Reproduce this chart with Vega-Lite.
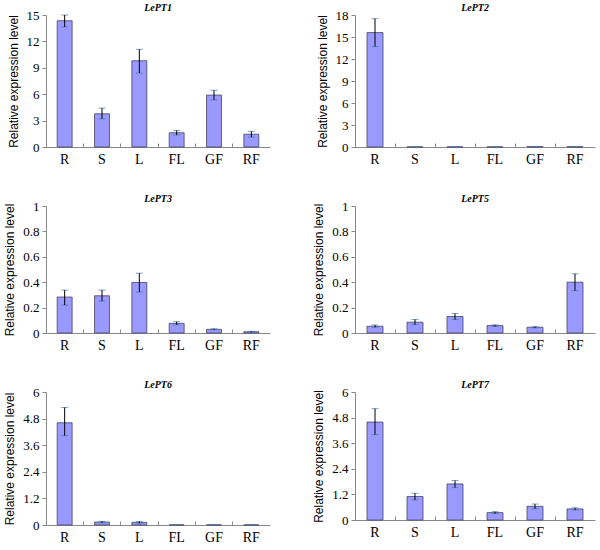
{
  "$schema": "https://vega.github.io/schema/vega-lite/v6.json",
  "padding": {"left": 3, "top": 3, "right": 2, "bottom": 0},
  "background": "white",
  "datasets": {
    "expr": [
      {"gene": "LePT1", "tissue": "R", "value": 14.35, "lo": 13.65, "hi": 15.0},
      {"gene": "LePT1", "tissue": "S", "value": 3.77, "lo": 3.2, "hi": 4.42},
      {"gene": "LePT1", "tissue": "L", "value": 9.8, "lo": 8.4, "hi": 11.1},
      {"gene": "LePT1", "tissue": "FL", "value": 1.62, "lo": 1.36, "hi": 1.88},
      {"gene": "LePT1", "tissue": "GF", "value": 5.9, "lo": 5.35, "hi": 6.45},
      {"gene": "LePT1", "tissue": "RF", "value": 1.45, "lo": 1.12, "hi": 1.78},
      {"gene": "LePT2", "tissue": "R", "value": 15.6, "lo": 13.7, "hi": 17.5},
      {"gene": "LePT2", "tissue": "S", "value": 0.01, "lo": 0.01, "hi": 0.01},
      {"gene": "LePT2", "tissue": "L", "value": 0.01, "lo": 0.01, "hi": 0.01},
      {"gene": "LePT2", "tissue": "FL", "value": 0.01, "lo": 0.01, "hi": 0.01},
      {"gene": "LePT2", "tissue": "GF", "value": 0.05, "lo": 0.04, "hi": 0.06},
      {"gene": "LePT2", "tissue": "RF", "value": 0.04, "lo": 0.03, "hi": 0.05},
      {"gene": "LePT3", "tissue": "R", "value": 0.283, "lo": 0.22, "hi": 0.338},
      {"gene": "LePT3", "tissue": "S", "value": 0.293, "lo": 0.251, "hi": 0.338},
      {"gene": "LePT3", "tissue": "L", "value": 0.398, "lo": 0.322, "hi": 0.471},
      {"gene": "LePT3", "tissue": "FL", "value": 0.076, "lo": 0.065, "hi": 0.089},
      {"gene": "LePT3", "tissue": "GF", "value": 0.029, "lo": 0.025, "hi": 0.033},
      {"gene": "LePT3", "tissue": "RF", "value": 0.01, "lo": 0.007, "hi": 0.013},
      {"gene": "LePT5", "tissue": "R", "value": 0.053, "lo": 0.045, "hi": 0.063},
      {"gene": "LePT5", "tissue": "S", "value": 0.085, "lo": 0.066, "hi": 0.106},
      {"gene": "LePT5", "tissue": "L", "value": 0.13, "lo": 0.106, "hi": 0.153},
      {"gene": "LePT5", "tissue": "FL", "value": 0.058, "lo": 0.052, "hi": 0.064},
      {"gene": "LePT5", "tissue": "GF", "value": 0.045, "lo": 0.04, "hi": 0.05},
      {"gene": "LePT5", "tissue": "RF", "value": 0.4, "lo": 0.333, "hi": 0.466},
      {"gene": "LePT6", "tissue": "R", "value": 4.61, "lo": 4.03, "hi": 5.3},
      {"gene": "LePT6", "tissue": "S", "value": 0.134, "lo": 0.1, "hi": 0.165},
      {"gene": "LePT6", "tissue": "L", "value": 0.12, "lo": 0.08, "hi": 0.16},
      {"gene": "LePT6", "tissue": "FL", "value": 0.005, "lo": 0.004, "hi": 0.006},
      {"gene": "LePT6", "tissue": "GF", "value": 0.005, "lo": 0.004, "hi": 0.006},
      {"gene": "LePT6", "tissue": "RF", "value": 0.005, "lo": 0.004, "hi": 0.006},
      {"gene": "LePT7", "tissue": "R", "value": 4.59, "lo": 4.0, "hi": 5.22},
      {"gene": "LePT7", "tissue": "S", "value": 1.1, "lo": 0.94, "hi": 1.25},
      {"gene": "LePT7", "tissue": "L", "value": 1.69, "lo": 1.52, "hi": 1.85},
      {"gene": "LePT7", "tissue": "FL", "value": 0.345, "lo": 0.3, "hi": 0.39},
      {"gene": "LePT7", "tissue": "GF", "value": 0.64, "lo": 0.53, "hi": 0.75},
      {"gene": "LePT7", "tissue": "RF", "value": 0.52, "lo": 0.47, "hi": 0.57}
    ]
  },
  "columns": 2,
  "spacing": {"row": 28, "column": 42},
  "concat": [
    {
      "width": 224, "height": 132,
      "title": "LePT1",
      "data": {"name": "expr"},
      "transform": [{"filter": "datum.gene === 'LePT1'"}],
      "encoding": {
        "x": {"field": "tissue", "type": "nominal", "sort": ["R", "S", "L", "FL", "GF", "RF"], "title": null},
        "y": {"field": "value", "type": "quantitative", "title": "Relative expression level",
              "scale": {"domain": [0, 15]}, "axis": {"values": [0, 3, 6, 9, 12, 15]}}
      },
      "layer": [
        {"mark": {"type": "bar", "width": {"band": 0.4}}},
        {"mark": {"type": "errorbar", "ticks": {"size": 7}}, "encoding": {"y": {"field": "lo", "type": "quantitative"}, "y2": {"field": "hi"}}}
      ]
    },
    {
      "width": 240, "height": 132,
      "title": "LePT2",
      "data": {"name": "expr"},
      "transform": [{"filter": "datum.gene === 'LePT2'"}],
      "encoding": {
        "x": {"field": "tissue", "type": "nominal", "sort": ["R", "S", "L", "FL", "GF", "RF"], "title": null},
        "y": {"field": "value", "type": "quantitative", "title": "Relative expression level",
              "scale": {"domain": [0, 18]}, "axis": {"values": [0, 3, 6, 9, 12, 15, 18]}}
      },
      "layer": [
        {"mark": {"type": "bar", "width": {"band": 0.4}}},
        {"mark": {"type": "errorbar", "ticks": {"size": 7}}, "encoding": {"y": {"field": "lo", "type": "quantitative"}, "y2": {"field": "hi"}}}
      ]
    },
    {
      "width": 224, "height": 127,
      "title": "LePT3",
      "data": {"name": "expr"},
      "transform": [{"filter": "datum.gene === 'LePT3'"}],
      "encoding": {
        "x": {"field": "tissue", "type": "nominal", "sort": ["R", "S", "L", "FL", "GF", "RF"], "title": null},
        "y": {"field": "value", "type": "quantitative", "title": "Relative expression level",
              "scale": {"domain": [0, 1]}, "axis": {"values": [0, 0.2, 0.4, 0.6, 0.8, 1]}}
      },
      "layer": [
        {"mark": {"type": "bar", "width": {"band": 0.4}}},
        {"mark": {"type": "errorbar", "ticks": {"size": 7}}, "encoding": {"y": {"field": "lo", "type": "quantitative"}, "y2": {"field": "hi"}}}
      ]
    },
    {
      "width": 240, "height": 127,
      "title": "LePT5",
      "data": {"name": "expr"},
      "transform": [{"filter": "datum.gene === 'LePT5'"}],
      "encoding": {
        "x": {"field": "tissue", "type": "nominal", "sort": ["R", "S", "L", "FL", "GF", "RF"], "title": null},
        "y": {"field": "value", "type": "quantitative", "title": "Relative expression level",
              "scale": {"domain": [0, 1]}, "axis": {"values": [0, 0.2, 0.4, 0.6, 0.8, 1]}}
      },
      "layer": [
        {"mark": {"type": "bar", "width": {"band": 0.4}}},
        {"mark": {"type": "errorbar", "ticks": {"size": 7}}, "encoding": {"y": {"field": "lo", "type": "quantitative"}, "y2": {"field": "hi"}}}
      ]
    },
    {
      "width": 224, "height": 133,
      "title": "LePT6",
      "data": {"name": "expr"},
      "transform": [{"filter": "datum.gene === 'LePT6'"}],
      "encoding": {
        "x": {"field": "tissue", "type": "nominal", "sort": ["R", "S", "L", "FL", "GF", "RF"], "title": null},
        "y": {"field": "value", "type": "quantitative", "title": "Relative expression level",
              "scale": {"domain": [0, 6]}, "axis": {"values": [0, 1.2, 2.4, 3.6, 4.8, 6]}}
      },
      "layer": [
        {"mark": {"type": "bar", "width": {"band": 0.4}}},
        {"mark": {"type": "errorbar", "ticks": {"size": 7}}, "encoding": {"y": {"field": "lo", "type": "quantitative"}, "y2": {"field": "hi"}}}
      ]
    },
    {
      "width": 240, "height": 128,
      "title": "LePT7",
      "data": {"name": "expr"},
      "transform": [{"filter": "datum.gene === 'LePT7'"}],
      "encoding": {
        "x": {"field": "tissue", "type": "nominal", "sort": ["R", "S", "L", "FL", "GF", "RF"], "title": null},
        "y": {"field": "value", "type": "quantitative", "title": "Relative expression level",
              "scale": {"domain": [0, 6]}, "axis": {"values": [0, 1.2, 2.4, 3.6, 4.8, 6]}}
      },
      "layer": [
        {"mark": {"type": "bar", "width": {"band": 0.4}}},
        {"mark": {"type": "errorbar", "ticks": {"size": 7}}, "encoding": {"y": {"field": "lo", "type": "quantitative"}, "y2": {"field": "hi"}}}
      ]
    }
  ],
  "config": {
    "view": {"stroke": null},
    "font": "Liberation Serif",
    "title": {"font": "Liberation Serif", "fontSize": 10, "fontStyle": "italic", "fontWeight": "bold", "color": "black", "offset": -4, "anchor": "middle"},
    "bar": {"fill": "#9999FF", "stroke": "#444466", "strokeWidth": 0.8},
    "errorbar": {"color": "#333333", "thickness": 1},
    "scale": {"bandPaddingInner": 0, "bandPaddingOuter": 0},
    "axis": {"grid": false, "domainColor": "#888888", "tickColor": "#888888", "labelColor": "black",
             "labelFont": "Liberation Serif", "titleFont": "Liberation Sans", "titleFontWeight": "normal",
             "titleFontSize": 12, "titleColor": "black"},
    "axisX": {"labelAngle": 0, "labelFontSize": 14, "bandPosition": 0, "tickSize": -4, "labelPadding": 9, "domainColor": "#888888"},
    "axisY": {"labelFontSize": 13, "tickSize": 4, "labelPadding": 3, "titlePadding": 6, "format": ".1~f"}
  }
}
